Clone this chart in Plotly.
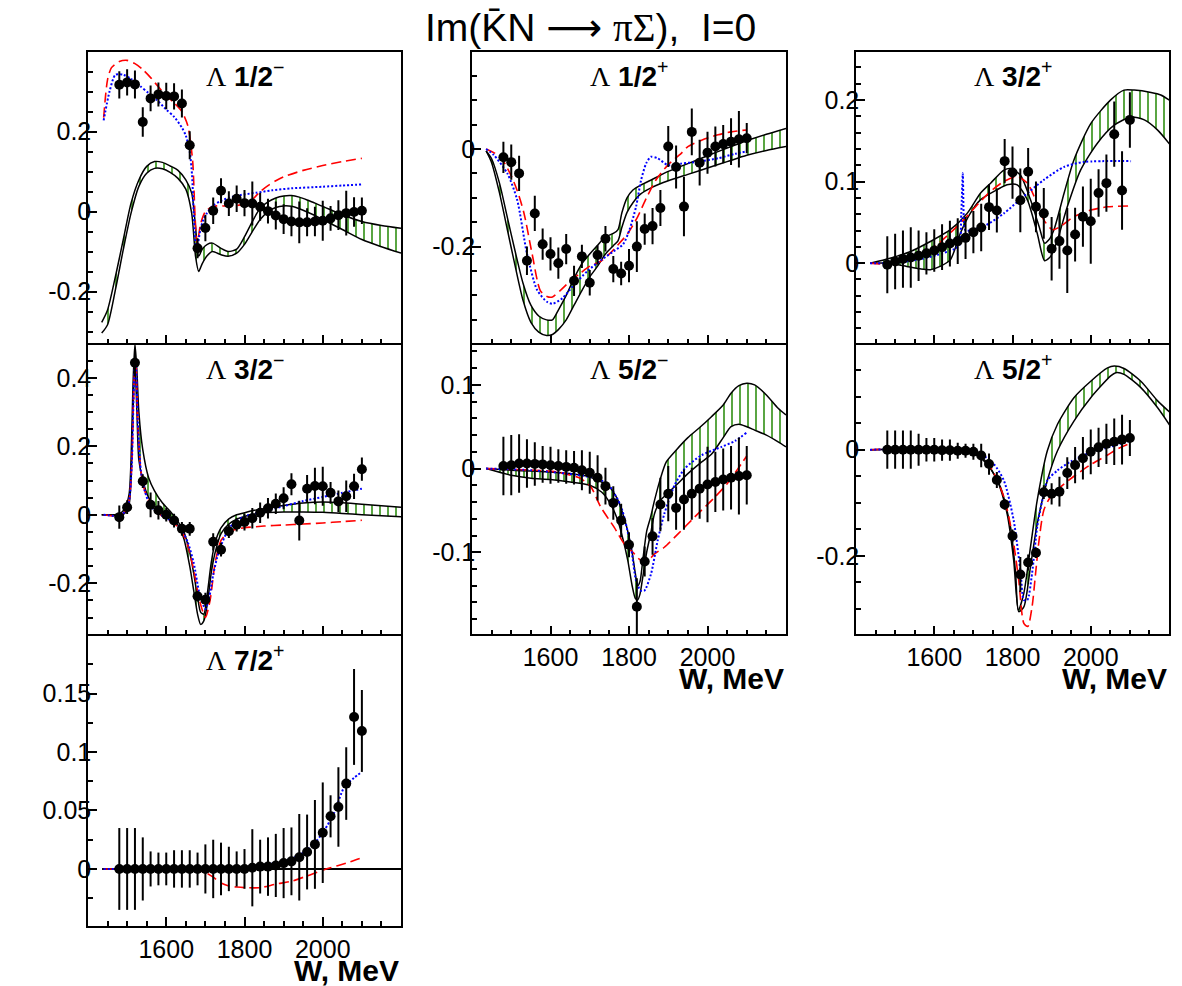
import plotly.graph_objects as go

W_PTS = [1480, 1500, 1520, 1540, 1560, 1580, 1600, 1620, 1640, 1660, 1680, 1700, 1720, 1740, 1760, 1780,
         1800, 1820, 1840, 1860, 1880, 1900, 1920, 1940, 1960, 1980, 2000, 2020, 2040, 2060, 2080, 2100]

# ---------------- Lambda 1/2-
L12M_PTS = [0.317, 0.323, 0.318, 0.224, 0.283, 0.293, 0.289, 0.288, 0.270, 0.166, -0.092, -0.041, 0.002, 0.052, 0.020, 0.032,
            0.021, 0.020, 0.012, 0.001, -0.010, -0.019, -0.025, -0.027, -0.027, -0.025, -0.023, -0.017, -0.009, -0.004, -0.001, 0.002]
L12M_ERR = [0.034, 0.033, 0.035, 0.037, 0.032, 0.030, 0.033, 0.033, 0.035, 0.035, 0.025, 0.033, 0.033, 0.031, 0.031, 0.033,
            0.033, 0.055, 0.035, 0.031, 0.035, 0.037, 0.037, 0.052, 0.035, 0.037, 0.050, 0.031, 0.037, 0.056, 0.037, 0.033]
L12M_HI_W = [1435, 1450, 1470, 1490, 1510, 1530, 1550, 1570, 1590, 1610, 1630, 1650, 1665, 1675, 1683, 1692, 1705, 1718,
             1740, 1758, 1780, 1800, 1820, 1840, 1860, 1880, 1900, 1920, 1940, 1960, 1980, 2000, 2050, 2100, 2150, 2200]
L12M_HI = [-0.277, -0.246, -0.163, -0.071, 0.021, 0.079, 0.113, 0.125, 0.123, 0.114, 0.103, 0.079, 0.046, -0.040, -0.112,
           -0.094, -0.082, -0.079, -0.092, -0.100, -0.094, -0.063, -0.025, 0.008, 0.024, 0.034, 0.039, 0.040, 0.036, 0.029,
           0.021, 0.013, -0.008, -0.025, -0.035, -0.042]
L12M_LO_W = L12M_HI_W
L12M_LO = [-0.304, -0.283, -0.196, -0.096, -0.004, 0.063, 0.096, 0.108, 0.107, 0.098, 0.083, 0.056, -0.004, -0.113, -0.150,
           -0.130, -0.110, -0.100, -0.108, -0.112, -0.104, -0.082, -0.050, -0.020, 0.000, 0.010, 0.014, 0.013, 0.007, -0.001,
           -0.010, -0.020, -0.045, -0.070, -0.088, -0.104]
L12M_RED_W = [1440, 1450, 1460, 1480, 1500, 1520, 1540, 1560, 1580, 1600, 1620, 1640, 1655, 1662, 1668, 1674, 1679, 1688,
              1700, 1720, 1760, 1800, 1820, 1840, 1860, 1880, 1900, 1950, 2000, 2050, 2100]
L12M_RED = [0.235, 0.330, 0.360, 0.375, 0.378, 0.370, 0.355, 0.335, 0.312, 0.290, 0.272, 0.250, 0.215, 0.175, 0.120, -0.020,
            -0.080, -0.030, 0.000, 0.013, 0.014, 0.018, 0.030, 0.050, 0.065, 0.077, 0.087, 0.103, 0.115, 0.125, 0.133]
L12M_BLUE_W = [1440, 1455, 1470, 1490, 1510, 1533, 1555, 1576, 1600, 1620, 1640, 1650, 1660, 1666, 1670, 1674, 1678, 1687,
               1695, 1704, 1720, 1740, 1770, 1800, 1830, 1870, 1920, 2000, 2050, 2100]
L12M_BLUE = [0.228, 0.300, 0.342, 0.342, 0.332, 0.314, 0.296, 0.279, 0.255, 0.237, 0.210, 0.190, 0.150, 0.090, 0.000, -0.070,
             -0.096, -0.046, -0.020, -0.004, 0.015, 0.027, 0.037, 0.043, 0.047, 0.053, 0.058, 0.062, 0.065, 0.068]

# ---------------- Lambda 3/2-
L32M_PTS = [-0.007, 0.022, 0.444, 0.098, 0.029, 0.013, 0.000, -0.017, -0.041, -0.041, -0.238, -0.248, -0.079, -0.102, -0.048,
            -0.029, -0.021, -0.010, 0.006, 0.019, 0.032, 0.048, 0.089, -0.017, 0.076, 0.084, 0.083, 0.064, 0.039, 0.054, 0.083, 0.133]
L32M_ERR = [0.034, 0.020, 0.040, 0.020, 0.036, 0.027, 0.020, 0.020, 0.020, 0.020, 0.015, 0.020, 0.025, 0.020, 0.020, 0.020,
            0.025, 0.030, 0.030, 0.030, 0.030, 0.032, 0.032, 0.058, 0.040, 0.053, 0.057, 0.032, 0.032, 0.046, 0.037, 0.034]
L32M_HI_W = [1435, 1460, 1480, 1495, 1505, 1510, 1515, 1520, 1525, 1530, 1540, 1555, 1570, 1590, 1610, 1630, 1645, 1660, 1670,
             1680, 1688, 1696, 1705, 1715, 1725, 1740, 1760, 1780, 1800, 1825, 1850, 1900, 1950, 2000, 2050, 2100, 2150, 2200]
L32M_HI = [0.000, 0.000, 0.002, 0.020, 0.060, 0.160, 0.380, 0.500, 0.420, 0.300, 0.190, 0.108, 0.070, 0.035, 0.010, -0.020,
           -0.050, -0.110, -0.170, -0.240, -0.285, -0.290, -0.230, -0.140, -0.080, -0.038, -0.012, 0.000, 0.006, 0.013, 0.018,
           0.027, 0.034, 0.037, 0.035, 0.031, 0.026, 0.022]
L32M_LO_W = L32M_HI_W
L32M_LO = [0.000, -0.002, -0.004, 0.005, 0.030, 0.100, 0.300, 0.440, 0.300, 0.160, 0.100, 0.050, 0.025, 0.008, -0.008, -0.030,
           -0.070, -0.150, -0.220, -0.290, -0.320, -0.310, -0.260, -0.170, -0.110, -0.055, -0.027, -0.013, -0.005, 0.002, 0.006,
           0.008, 0.008, 0.007, 0.004, 0.000, -0.003, -0.006]
L32M_RED_W = [1440, 1480, 1495, 1505, 1512, 1518, 1522, 1527, 1535, 1545, 1560, 1580, 1600, 1620, 1640, 1655, 1670, 1685,
              1700, 1712, 1725, 1740, 1760, 1780, 1800, 1850, 1900, 1950, 2000, 2050, 2100]
L32M_RED = [0.000, -0.003, 0.010, 0.040, 0.150, 0.400, 0.450, 0.280, 0.130, 0.070, 0.030, 0.005, -0.012, -0.025, -0.050,
            -0.090, -0.160, -0.250, -0.300, -0.250, -0.140, -0.075, -0.050, -0.042, -0.038, -0.033, -0.030, -0.027, -0.024,
            -0.020, -0.016]
L32M_BLUE_W = [1440, 1480, 1495, 1505, 1512, 1518, 1522, 1527, 1535, 1545, 1560, 1580, 1600, 1620, 1640, 1655, 1670, 1685,
               1700, 1710, 1720, 1730, 1740, 1760, 1780, 1800, 1850, 1900, 1950, 2000, 2050, 2100]
L32M_BLUE = [0.000, -0.003, 0.010, 0.040, 0.150, 0.400, 0.450, 0.280, 0.130, 0.070, 0.025, 0.005, -0.010, -0.020, -0.045,
             -0.080, -0.140, -0.230, -0.275, -0.240, -0.175, -0.125, -0.090, -0.040, -0.018, -0.005, 0.010, 0.025, 0.040,
             0.052, 0.064, 0.076]

# ---------------- Lambda 7/2+
L72P_PTS = [0.000, 0.000, 0.000, 0.000, 0.000, 0.000, 0.000, 0.000, 0.000, 0.000, 0.000, 0.000, 0.000, 0.000, 0.000, 0.000,
            0.000, 0.001, 0.002, 0.002, 0.003, 0.005, 0.0065, 0.010, 0.0145, 0.021, 0.031, 0.045, 0.053, 0.073, 0.130, 0.118]
L72P_ERR = [0.035, 0.035, 0.035, 0.027, 0.015, 0.014, 0.014, 0.016, 0.016, 0.016, 0.014, 0.021, 0.025, 0.0225, 0.019, 0.015,
            0.017, 0.033, 0.023, 0.025, 0.027, 0.030, 0.029, 0.037, 0.032, 0.038, 0.043, 0.018, 0.034, 0.031, 0.041, 0.035]
L72P_HI_W = [1436, 2200]
L72P_HI = [0.0, 0.0]
L72P_RED_W = [1440, 1500, 1560, 1620, 1660, 1680, 1700, 1720, 1740, 1760, 1780, 1800, 1840, 1880, 1920, 1960, 2000, 2040, 2070, 2100]
L72P_RED = [0.000, 0.000, 0.000, 0.000, -0.0005, -0.001, -0.003, -0.007, -0.012, -0.0145, -0.0155, -0.016, -0.016, -0.013,
            -0.0105, -0.006, -0.001, 0.003, 0.006, 0.0095]
L72P_BLUE_W = [1440, 1600, 1750, 1800, 1840, 1880, 1907, 1944, 1978, 2004, 2029, 2055, 2080, 2100]
L72P_BLUE = [0.000, 0.000, 0.000, 0.0015, 0.003, 0.005, 0.0074, 0.0125, 0.0216, 0.033, 0.048, 0.070, 0.078, 0.083]

# ---------------- Lambda 1/2+
L12P_PTS = [-0.017, -0.027, -0.050, -0.229, -0.132, -0.195, -0.215, -0.234, -0.205, -0.270, -0.220, -0.274, -0.217, -0.184,
            -0.246, -0.255, -0.239, -0.200, -0.164, -0.158, -0.121, 0.005, -0.037, -0.118, 0.035, -0.028, -0.0075, 0.005,
            0.010, 0.015, 0.020, 0.022]
L12P_ERR = [0.032, 0.036, 0.036, 0.029, 0.036, 0.032, 0.034, 0.032, 0.031, 0.031, 0.024, 0.026, 0.020, 0.026, 0.027, 0.024,
            0.034, 0.052, 0.032, 0.037, 0.037, 0.042, 0.044, 0.061, 0.048, 0.047, 0.043, 0.041, 0.039, 0.048, 0.058, 0.031]
L12P_HI_W = [1436, 1450, 1470, 1490, 1510, 1530, 1550, 1570, 1590, 1605, 1620, 1640, 1660, 1680, 1700, 1720, 1740, 1760,
             1772, 1782, 1795, 1810, 1830, 1860, 1900, 1950, 2000, 2050, 2100, 2150, 2200]
L12P_HI = [-0.004, -0.020, -0.070, -0.140, -0.210, -0.275, -0.320, -0.342, -0.350, -0.350, -0.330, -0.300, -0.265, -0.235,
           -0.215, -0.197, -0.180, -0.173, -0.165, -0.130, -0.100, -0.084, -0.074, -0.062, -0.046, -0.030, -0.014, 0.002,
           0.017, 0.030, 0.042]
L12P_LO_W = L12P_HI_W
L12P_LO = [-0.004, -0.028, -0.090, -0.165, -0.240, -0.310, -0.355, -0.375, -0.382, -0.380, -0.370, -0.350, -0.320, -0.290,
           -0.262, -0.240, -0.215, -0.198, -0.188, -0.160, -0.130, -0.110, -0.092, -0.078, -0.065, -0.052, -0.039, -0.026,
           -0.013, -0.003, 0.005]
L12P_RED_W = [1436, 1472, 1497, 1515, 1532, 1553, 1574, 1591, 1605, 1626, 1651, 1675, 1700, 1728, 1750, 1771, 1797, 1822,
              1844, 1869, 1899, 1933, 1950, 1985, 2027, 2060, 2100]
L12P_RED = [0.000, -0.016, -0.050, -0.085, -0.130, -0.214, -0.290, -0.302, -0.303, -0.289, -0.270, -0.255, -0.240, -0.230,
            -0.215, -0.197, -0.173, -0.139, -0.101, -0.063, -0.033, -0.009, 0.005, 0.018, 0.029, 0.035, 0.039]
L12P_BLUE_W = [1436, 1455, 1490, 1515, 1540, 1566, 1591, 1605, 1630, 1656, 1694, 1730, 1760, 1785, 1801, 1818, 1831, 1844,
               1856, 1873, 1899, 1933, 1976, 2027, 2070, 2100]
L12P_BLUE = [0.000, -0.012, -0.050, -0.104, -0.214, -0.289, -0.313, -0.317, -0.306, -0.282, -0.250, -0.227, -0.210, -0.195,
             -0.166, -0.118, -0.063, -0.029, -0.016, -0.019, -0.033, -0.030, -0.026, -0.019, -0.010, -0.005]

# ---------------- Lambda 5/2-
L52M_PTS = [0.003, 0.004, 0.006, 0.006, 0.0056, 0.005, 0.004, 0.003, 0.002, 0.001, -0.002, -0.005, -0.011, -0.021, -0.041,
            -0.062, -0.091, -0.165, -0.111, -0.081, -0.043, -0.030, -0.047, -0.037, -0.030, -0.024, -0.019, -0.016, -0.013,
            -0.011, -0.009, -0.008]
L52M_ERR = [0.035, 0.036, 0.035, 0.029, 0.026, 0.022, 0.022, 0.020, 0.020, 0.020, 0.024, 0.025, 0.027, 0.022, 0.020, 0.020,
            0.015, 0.034, 0.018, 0.022, 0.032, 0.033, 0.026, 0.036, 0.031, 0.036, 0.045, 0.036, 0.037, 0.038, 0.046, 0.035]
L52M_HI_W = [1436, 1500, 1550, 1600, 1650, 1700, 1730, 1750, 1770, 1785, 1797, 1808, 1816, 1822, 1828, 1835, 1845, 1855,
             1865, 1880, 1895, 1920, 1950, 1980, 2010, 2040, 2060, 2080, 2100, 2120, 2150, 2180, 2200]
L52M_HI = [0.000, -0.002, -0.003, -0.004, -0.006, -0.010, -0.016, -0.022, -0.036, -0.055, -0.075, -0.100, -0.125, -0.140,
           -0.135, -0.110, -0.075, -0.058, -0.038, -0.012, 0.008, 0.022, 0.037, 0.049, 0.062, 0.076, 0.090, 0.099, 0.102,
           0.100, 0.088, 0.072, 0.064]
L52M_LO_W = L52M_HI_W
L52M_LO = [0.000, -0.008, -0.0115, -0.013, -0.016, -0.020, -0.028, -0.040, -0.060, -0.085, -0.110, -0.140, -0.155, -0.157,
           -0.150, -0.130, -0.100, -0.078, -0.054, -0.038, -0.031, -0.020, -0.006, 0.006, 0.017, 0.037, 0.050, 0.053, 0.050,
           0.046, 0.040, 0.032, 0.026]
L52M_RED_W = [1436, 1500, 1560, 1617, 1677, 1703, 1728, 1762, 1788, 1814, 1831, 1848, 1865, 1890, 1925, 1967, 2019, 2050, 2075, 2100]
L52M_RED = [0.000, -0.001, -0.002, -0.004, -0.012, -0.022, -0.046, -0.070, -0.090, -0.102, -0.110, -0.110, -0.102, -0.094,
            -0.078, -0.058, -0.034, -0.018, -0.002, 0.015]
L52M_BLUE_W = [1436, 1550, 1700, 1745, 1780, 1805, 1818, 1830, 1839, 1856, 1873, 1890, 1916, 1942, 1985, 2036, 2070, 2100]
L52M_BLUE = [0.000, -0.002, -0.010, -0.018, -0.046, -0.094, -0.134, -0.146, -0.146, -0.126, -0.086, -0.054, -0.020, 0.000,
             0.016, 0.026, 0.033, 0.043]

# ---------------- Lambda 3/2+
L32P_PTS = [-0.002, 0.002, 0.005, 0.007, 0.009, 0.012, 0.0155, 0.0196, 0.024, 0.027, 0.031, 0.038, 0.0437, 0.0686, 0.0645,
            0.125, 0.111, 0.077, 0.112, 0.069, 0.061, 0.0176, 0.027, 0.0155, 0.035, 0.057, 0.0514, 0.086, 0.098, 0.158,
            0.089, 0.1755]
L32P_ERR = [0.035, 0.034, 0.035, 0.037, 0.031, 0.026, 0.026, 0.028, 0.028, 0.028, 0.026, 0.026, 0.029, 0.028, 0.027, 0.027,
            0.032, 0.039, 0.029, 0.031, 0.031, 0.039, 0.034, 0.052, 0.033, 0.037, 0.052, 0.029, 0.035, 0.040, 0.048, 0.034]
L32P_HI_W = [1436, 1487, 1538, 1590, 1641, 1684, 1718, 1744, 1778, 1795, 1820, 1846, 1868, 1882, 1893, 1906, 1932, 1957,
             2000, 2051, 2085, 2111, 2154, 2179, 2203]
L32P_HI = [0.000, 0.006, 0.014, 0.0265, 0.041, 0.061, 0.0857, 0.098, 0.114, 0.116, 0.108, 0.0776, 0.045, 0.0245, 0.0286,
           0.041, 0.086, 0.1265, 0.171, 0.200, 0.212, 0.212, 0.209, 0.206, 0.199]
L32P_LO_W = [1436, 1487, 1530, 1564, 1590, 1615, 1641, 1667, 1692, 1718, 1761, 1786, 1812, 1838, 1863, 1882, 1897, 1915,
             1940, 1974, 2017, 2060, 2103, 2137, 2171, 2203]
L32P_LO = [0.000, 0.000, -0.004, -0.007, -0.008, -0.004, 0.004, 0.037, 0.061, 0.0775, 0.090, 0.096, 0.096, 0.0775, 0.037,
           0.003, 0.008, 0.0286, 0.069, 0.114, 0.147, 0.169, 0.179, 0.1755, 0.163, 0.145]
L32P_RED_W = [1436, 1487, 1547, 1590, 1632, 1675, 1709, 1744, 1778, 1812, 1838, 1859, 1880, 1902, 1923, 1957, 2000, 2043, 2101]
L32P_RED = [0.000, -0.001, 0.006, 0.016, 0.033, 0.053, 0.071, 0.088, 0.100, 0.106, 0.098, 0.0776, 0.053, 0.041, 0.045,
            0.057, 0.065, 0.069, 0.070]
L32P_BLUE_W = [1436, 1487, 1556, 1607, 1650, 1664, 1669, 1673, 1676, 1680, 1726, 1778, 1829, 1880, 1932, 1983, 2103]
L32P_BLUE = [0.000, 0.000, 0.004, 0.010, 0.017, 0.022, 0.060, 0.110, 0.050, 0.040, 0.045, 0.061, 0.082, 0.102, 0.118,
             0.124, 0.125]

# ---------------- Lambda 5/2+
L52P_PTS = [0.000, 0.000, 0.000, 0.000, 0.000, 0.000, 0.000, -0.001, -0.001, -0.002, -0.002, -0.004, -0.011, -0.027, -0.057,
            -0.103, -0.1625, -0.235, -0.2125, -0.194, -0.080, -0.083, -0.079, -0.044, -0.029, -0.016, -0.004, 0.0044, 0.011,
            0.015, 0.019, 0.022]
L52P_ERR = [0.036, 0.036, 0.036, 0.036, 0.030, 0.022, 0.022, 0.020, 0.020, 0.015, 0.013, 0.015, 0.022, 0.020, 0.015, 0.010,
            0.012, 0.033, 0.015, 0.010, 0.013, 0.020, 0.028, 0.030, 0.034, 0.040, 0.042, 0.037, 0.038, 0.044, 0.047, 0.034]
L52P_HI_W = [1436, 1684, 1726, 1761, 1786, 1803, 1815, 1829, 1846, 1863, 1889, 1915, 1957, 2000, 2043, 2060, 2085, 2128, 2171, 2203]
L52P_HI = [0.000, -0.002, -0.0175, -0.058, -0.120, -0.208, -0.302, -0.270, -0.183, -0.096, -0.002, 0.048, 0.098, 0.129,
           0.154, 0.1575, 0.153, 0.129, 0.092, 0.070]
L52P_LO_W = [1436, 1692, 1735, 1769, 1795, 1808, 1816, 1829, 1846, 1863, 1889, 1915, 1957, 2000, 2051, 2064, 2085, 2128, 2171, 2203]
L52P_LO = [0.000, -0.005, -0.027, -0.070, -0.146, -0.233, -0.305, -0.296, -0.220, -0.140, -0.058, -0.002, 0.054, 0.098,
           0.139, 0.145, 0.142, 0.117, 0.079, 0.045]
L52P_RED_W = [1436, 1709, 1744, 1778, 1799, 1816, 1829, 1839, 1850, 1859, 1868, 1880, 1897, 1923, 1957, 2000, 2043, 2070, 2101]
L52P_RED = [0.000, -0.005, -0.033, -0.089, -0.158, -0.246, -0.327, -0.333, -0.296, -0.233, -0.170, -0.114, -0.089, -0.070,
            -0.050, -0.028, -0.010, 0.002, 0.012]
L52P_BLUE_W = [1436, 1709, 1752, 1778, 1803, 1821, 1829, 1838, 1850, 1863, 1876, 1889, 1915, 1949, 2000, 2051, 2101]
L52P_BLUE = [0.000, -0.005, -0.027, -0.058, -0.133, -0.233, -0.283, -0.283, -0.233, -0.146, -0.096, -0.058, -0.039, -0.022,
             -0.005, 0.0056, 0.017]

X_TICKS = [1600, 1800, 2000]
TITLE = ("Im(K\u0304N <span style=\"font-family:'DejaVu Sans'\">\u27f6</span> "
         "<span style=\"font-family:'Liberation Serif'\">\u03c0\u03a3</span>),\u00a0\u00a0I=0")

W_PX, H_PX = 1182, 986
COLS = {1: (88, 401), 2: (472, 786), 3: (856, 1169)}
ROWS = {1: (52, 343.3), 2: (344.7, 634.3), 3: (635.7, 926)}
GREEN = "#2f8f12"
SERIF = "'Liberation Serif', 'DejaVu Serif', serif"
SANS = "'Liberation Sans', Arial, sans-serif"


def lab(j, sign):
    return (f'<span style="font-family:{SERIF}">\u039b</span> <b>{j}</b>'
            f'<sup>{sign}</sup>')


PANELS = [
    dict(label=lab("1/2", "\u2212"), col=1, row=1, yr=[-0.3295, 0.399], yt=[-0.2, 0, 0.2], ytt=["-0.2", "0", "0.2"], ym=0.05,
         pts=L12M_PTS, err=L12M_ERR, hi=(L12M_HI_W, L12M_HI), lo=(L12M_LO_W, L12M_LO),
         red=(L12M_RED_W, L12M_RED), blue=(L12M_BLUE_W, L12M_BLUE), xl=False),
    dict(label=lab("3/2", "\u2212"), col=1, row=2, yr=[-0.349, 0.4965], yt=[-0.2, 0, 0.2, 0.4], ytt=["-0.2", "0", "0.2", "0.4"], ym=0.05,
         pts=L32M_PTS, err=L32M_ERR, hi=(L32M_HI_W, L32M_HI), lo=(L32M_LO_W, L32M_LO),
         red=(L32M_RED_W, L32M_RED), blue=(L32M_BLUE_W, L32M_BLUE), xl=False),
    dict(label=lab("7/2", "+"), col=1, row=3, yr=[-0.0488, 0.1995], yt=[0, 0.05, 0.1, 0.15], ytt=["0", "0.05", "0.1", "0.15"], ym=0.025,
         pts=L72P_PTS, err=L72P_ERR, hi=(L72P_HI_W, L72P_HI), lo=None,
         red=(L72P_RED_W, L72P_RED), blue=(L72P_BLUE_W, L72P_BLUE), xl=True),
    dict(label=lab("1/2", "+"), col=2, row=1, yr=[-0.398, 0.1986], yt=[-0.2, 0], ytt=["-0.2", "0"], ym=0.05,
         pts=L12P_PTS, err=L12P_ERR, hi=(L12P_HI_W, L12P_HI), lo=(L12P_LO_W, L12P_LO),
         red=(L12P_RED_W, L12P_RED), blue=(L12P_BLUE_W, L12P_BLUE), xl=False),
    dict(label=lab("5/2", "\u2212"), col=2, row=2, yr=[-0.198, 0.148], yt=[-0.1, 0, 0.1], ytt=["-0.1", "0", "0.1"], ym=0.02,
         pts=L52M_PTS, err=L52M_ERR, hi=(L52M_HI_W, L52M_HI), lo=(L52M_LO_W, L52M_LO),
         red=(L52M_RED_W, L52M_RED), blue=(L52M_BLUE_W, L52M_BLUE), xl=True),
    dict(label=lab("3/2", "+"), col=3, row=1, yr=[-0.0982, 0.2587], yt=[0, 0.1, 0.2], ytt=["0", "0.1", "0.2"], ym=0.02,
         pts=L32P_PTS, err=L32P_ERR, hi=(L32P_HI_W, L32P_HI), lo=(L32P_LO_W, L32P_LO),
         red=(L32P_RED_W, L32P_RED), blue=(L32P_BLUE_W, L32P_BLUE), xl=False),
    dict(label=lab("5/2", "+"), col=3, row=2, yr=[-0.3477, 0.1978], yt=[-0.2, 0], ytt=["-0.2", "0"], ym=0.05,
         pts=L52P_PTS, err=L52P_ERR, hi=(L52P_HI_W, L52P_HI), lo=(L52P_LO_W, L52P_LO),
         red=(L52P_RED_W, L52P_RED), blue=(L52P_BLUE_W, L52P_BLUE), xl=True),
]

fig = go.Figure()
layout = dict(width=W_PX, height=H_PX, margin=dict(l=0, r=0, t=0, b=0), autosize=False,
              paper_bgcolor="white", plot_bgcolor="white", showlegend=False,
              font=dict(family=SANS, color="black"))
annotations = []
SM = 0.7

for i, p in enumerate(PANELS, start=1):
    xa, ya = f"x{i}", f"y{i}"
    x0, x1 = COLS[p["col"]]
    y0, y1 = ROWS[p["row"]]
    common = dict(showline=True, mirror=True, linecolor="black", linewidth=1.5, showgrid=False, zeroline=False,
                  ticks="inside", ticklen=9, tickwidth=1.5, tickcolor="black",
                  tickfont=dict(family=SANS, size=25, color="black"))
    layout[f"xaxis{i}"] = dict(common, domain=[x0 / W_PX, x1 / W_PX], range=[1400, 2200], anchor=ya,
                               tickmode="array", tickvals=X_TICKS, ticktext=[str(v) for v in X_TICKS],
                               showticklabels=p["xl"],
                               minor=dict(ticks="inside", ticklen=5, tickwidth=1.5, tickcolor="black",
                                          tickmode="linear", tick0=1400, dtick=50))
    layout[f"yaxis{i}"] = dict(common, domain=[1 - y1 / H_PX, 1 - y0 / H_PX], range=p["yr"], anchor=xa,
                               tickmode="array", tickvals=p["yt"], ticktext=p["ytt"], ticklabelstandoff=-10,
                               minor=dict(ticks="inside", ticklen=5, tickwidth=1.5, tickcolor="black",
                                          tickmode="linear", tick0=0, dtick=p["ym"]))

    hw, hv = p["hi"]
    fig.add_trace(go.Scatter(x=hw, y=hv, mode="lines", xaxis=xa, yaxis=ya, hoverinfo="skip",
                             line=dict(color="black", width=1.5 if p["lo"] is not None else 2,
                                       shape="spline", smoothing=SM)))
    if p["lo"] is not None:
        lw, lv = p["lo"]
        fig.add_trace(go.Scatter(x=lw, y=lv, mode="lines", xaxis=xa, yaxis=ya, hoverinfo="skip",
                                 line=dict(color="black", width=1.5, shape="spline", smoothing=SM),
                                 fill="tonexty", fillcolor="rgba(0,0,0,0)",
                                 fillpattern=dict(shape="|", fgcolor=GREEN, fgopacity=1, bgcolor="rgba(0,0,0,0)",
                                                  size=8, solidity=0.2, fillmode="overlay")))
    rw, rv = p["red"]
    fig.add_trace(go.Scatter(x=rw, y=rv, mode="lines", xaxis=xa, yaxis=ya, hoverinfo="skip",
                             line=dict(color="#ff0000", width=1.6, dash="10px,5px", shape="spline", smoothing=SM)))
    bw, bv = p["blue"]
    fig.add_trace(go.Scatter(x=bw, y=bv, mode="lines", xaxis=xa, yaxis=ya, hoverinfo="skip",
                             line=dict(color="#0000ff", width=2, dash="2px,2px", shape="spline", smoothing=SM)))
    fig.add_trace(go.Scatter(x=W_PTS, y=p["pts"], mode="markers", xaxis=xa, yaxis=ya, hoverinfo="skip",
                             marker=dict(color="black", size=10),
                             error_y=dict(type="data", array=p["err"], color="black", thickness=2, width=0)))

    annotations.append(dict(xref="paper", yref="paper", x=(x0 + x1) / 2 / W_PX, y=1 - (y0 + 22) / H_PX,
                            xanchor="center", yanchor="middle", showarrow=False, text=p["label"],
                            font=dict(family=SANS, size=28, color="black")))
    if p["xl"]:
        annotations.append(dict(xref="paper", yref="paper", x=x1 / W_PX, y=1 - (y1 + 44) / H_PX,
                                xanchor="right", yanchor="middle", showarrow=False, text="<b>W, MeV</b>",
                                font=dict(family=SANS, size=30, color="black")))

annotations.append(dict(xref="paper", yref="paper", x=590 / W_PX, y=1 - 28 / H_PX, xanchor="center", yanchor="middle",
                        showarrow=False, text=TITLE, font=dict(family=SANS, size=39, color="black")))
layout["annotations"] = annotations
fig.update_layout(**layout)
fig.write_html("out.html")
